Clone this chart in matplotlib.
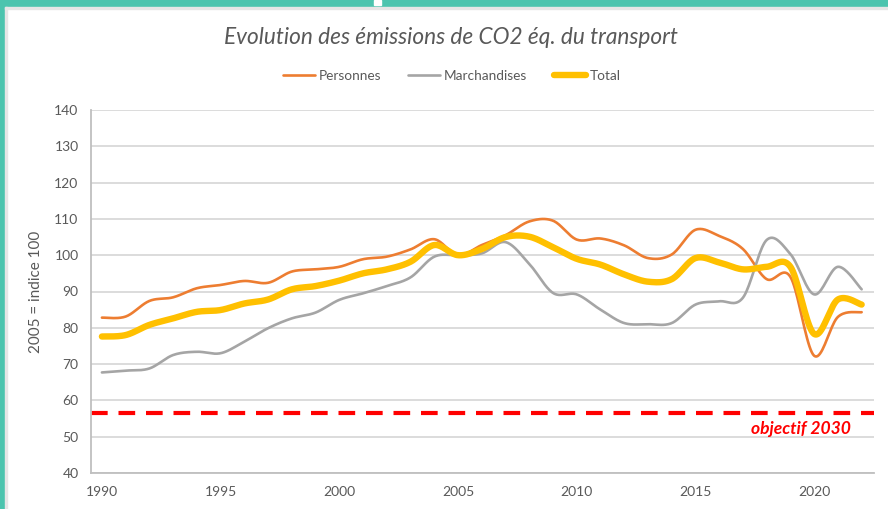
import numpy as np
import matplotlib
matplotlib.use("Agg")
import matplotlib.pyplot as plt
from matplotlib.patches import Rectangle

years = list(range(1990, 2023))
personnes = [82.8, 83.1, 87.4, 88.4, 90.9, 91.8, 92.9, 92.4, 95.5, 96.1, 96.8,
             98.9, 99.6, 101.6, 104.4, 100.0, 102.8, 105.5, 109.3, 109.5, 104.3,
             104.6, 102.7, 99.2, 100.2, 107.0, 105.3, 101.7, 93.4, 94.0, 72.3,
             83.0, 84.3]
marchandises = [67.7, 68.2, 68.8, 72.5, 73.4, 73.0, 76.2, 79.9, 82.6, 84.2, 87.7,
                89.5, 91.5, 93.9, 99.6, 100.0, 100.5, 103.6, 97.6, 89.6, 89.2,
                85.0, 81.3, 81.0, 81.3, 86.4, 87.3, 88.3, 104.2, 100.3, 89.2,
                96.8, 90.6]
total = [77.6, 78.0, 80.8, 82.6, 84.4, 84.9, 86.7, 87.8, 90.6, 91.5, 93.0,
         95.0, 96.1, 98.2, 102.8, 100.0, 101.7, 105.0, 105.1, 102.2, 99.0,
         97.4, 94.7, 92.7, 93.4, 99.2, 98.0, 96.1, 96.8, 96.8, 78.3,
         87.8, 86.4]
objectif = 56.5
series_names = ["Personnes", "Marchandises", "Total"]
xticks = [1990, 1995, 2000, 2005, 2010, 2015, 2020]
yticks = list(range(40, 141, 10))


def smooth(x, y, n=20):
    """Excel-like smoothed curve (Bezier through points, Catmull-Rom tangents)."""
    P = np.column_stack([np.asarray(x, float), np.asarray(y, float)])
    m = len(P)
    ext = np.vstack([P[0], P, P[-1]])
    out = []
    t = np.linspace(0, 1, n, endpoint=False)[:, None]
    for i in range(m - 1):
        p0, p1, p2, p3 = ext[i], ext[i + 1], ext[i + 2], ext[i + 3]
        c1 = p1 + (p2 - p0) / 6.0
        c2 = p2 - (p3 - p1) / 6.0
        b = ((1 - t) ** 3) * p1 + 3 * ((1 - t) ** 2) * t * c1 + 3 * (1 - t) * t ** 2 * c2 + t ** 3 * p2
        out.append(b)
    out.append(P[-1][None, :])
    out = np.vstack(out)
    return out[:, 0], out[:, 1]


plt.rcParams['font.family'] = ['Lato', 'DejaVu Sans']
W, H = 888, 509
fig = plt.figure(figsize=(W / 100, H / 100), dpi=100)

# teal frame
teal = "#4cc4ae"
fig.patches.append(Rectangle((0, 1 - 7 / H), 1, 7 / H, transform=fig.transFigure,
                             color=teal, zorder=0))
fig.patches.append(Rectangle((0, 0), 5 / W, 1, transform=fig.transFigure,
                             color=teal, zorder=0))
fig.patches.append(Rectangle((5 / W, 0), 2 / W, 1 - 7 / H, transform=fig.transFigure,
                             color="#e6e6e6", zorder=0))
fig.patches.append(Rectangle((5 / W, 1 - 9 / H), 1 - 5 / W, 2 / H, transform=fig.transFigure,
                             color="#e6e6e6", zorder=0))
fig.patches.append(Rectangle((374 / W, 1 - 5 / H), 7 / W, 5 / H, transform=fig.transFigure,
                             color="white", zorder=1))

ax = fig.add_axes([91 / W, 1 - 473 / H, (874 - 91) / W, (473 - 110) / H])

colors = ["#ED7D31", "#A5A5A5", "#FFC000"]
widths = [1.9, 1.9, 4.6]
for name, vals, c, lw in zip(series_names, [personnes, marchandises, total], colors, widths):
    sx, sy = smooth(years, vals)
    ax.plot(sx, sy, color=c, lw=lw, label=name, solid_capstyle='round', zorder=3)

ax.axhline(objectif, color="#FF0000", lw=3, linestyle=(0, (4, 2.6)), zorder=2)
ax.text(2021.55, 52.2, "objectif 2030", color="#FF0000", fontsize=12.6,
        fontweight='bold', style='italic', ha='right', va='center')

ax.set_xlim(1989.54, 2022.52)
ax.set_ylim(40, 140)
ax.set_xticks(xticks)
ax.set_yticks(yticks)
ax.grid(axis='y', color="#d9d9d9", lw=1.3, zorder=0)
ax.set_axisbelow(True)
for s in ['top', 'right']:
    ax.spines[s].set_visible(False)
for s in ['left', 'bottom']:
    ax.spines[s].set_color("#bfbfbf")
    ax.spines[s].set_linewidth(1.3)
ax.tick_params(axis='both', length=0, labelsize=10, labelcolor="#595959")
ax.tick_params(axis='y', pad=9)
ax.tick_params(axis='x', pad=9)
ax.set_ylabel("2005 = indice 100", fontsize=11, color="#595959", labelpad=8)

fig.text(451 / W, 1 - 38 / H, "Evolution des émissions de CO2 éq. du transport",
         ha='center', va='center', fontsize=16.3, style='italic', color="#595959")

leg = ax.legend(loc='center', bbox_to_anchor=(452 / W, 1 - 76 / H),
                bbox_transform=fig.transFigure, ncol=3, frameon=False,
                fontsize=9.8, handlelength=2.3, handletextpad=0.3,
                columnspacing=2.0)
for t in leg.get_texts():
    t.set_color("#595959")

fig.savefig("out.png", dpi=100, facecolor="white")
